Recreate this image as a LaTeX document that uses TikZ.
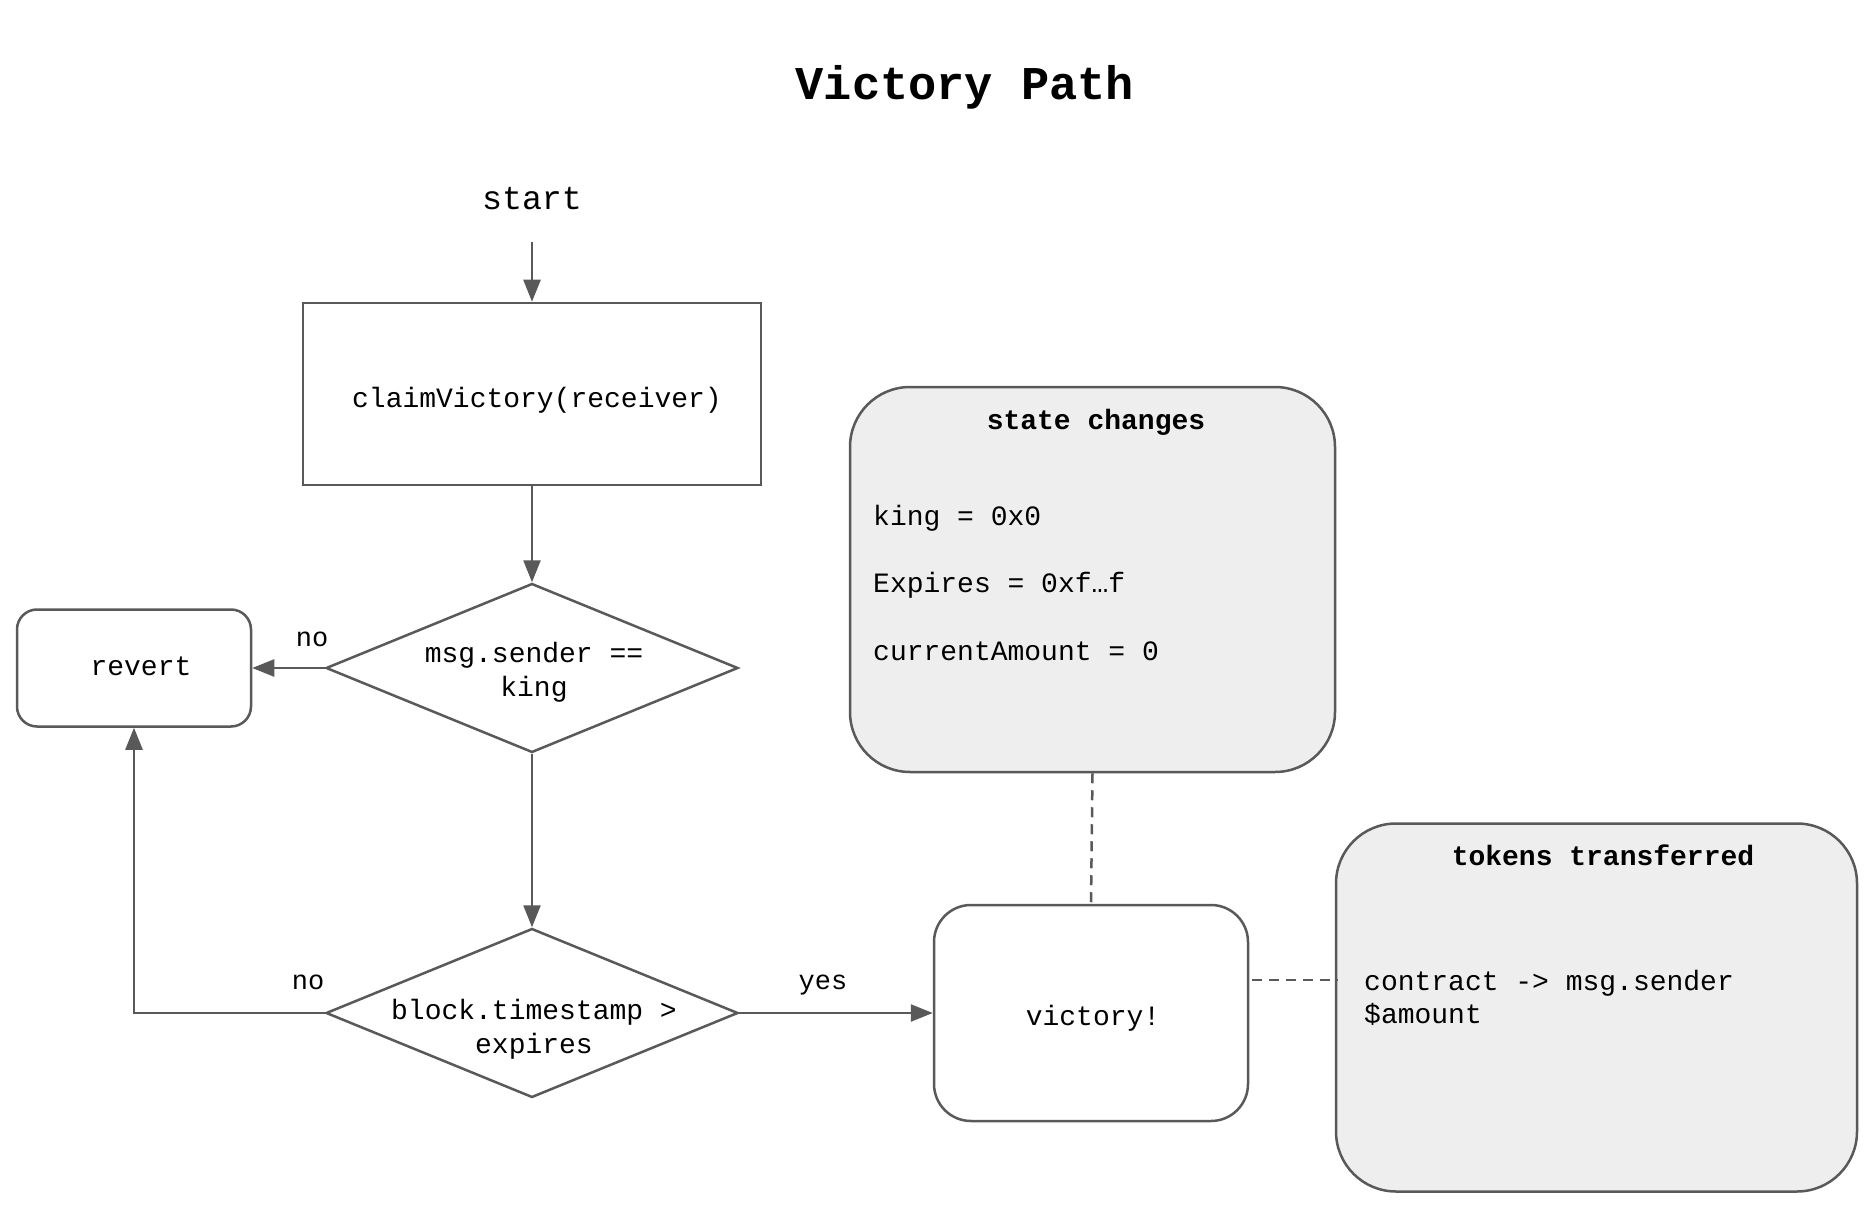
\documentclass[tikz,border=0pt]{standalone}
\usepackage{fontspec}
\setmonofont{Liberation Mono}
\usetikzlibrary{shapes.geometric,arrows.meta}
\definecolor{ln}{RGB}{89,89,89}
\definecolor{boxfill}{RGB}{238,238,238}
\tikzset{
  txt/.style={font=\fontsize{28}{34}\selectfont\ttfamily, inner sep=0pt},
  lbl/.style={font=\fontsize{27}{32}\selectfont\ttfamily, inner sep=0pt, anchor=base},
  btxt/.style={font=\fontsize{28}{33.6}\selectfont\ttfamily\bfseries, inner sep=0pt, anchor=base},
  line/.style={draw=ln, line width=2.5pt},
  arr/.style={line, -{Triangle[length=22pt,width=17pt]}},
  dsh/.style={draw=ln, line width=2.5pt, dash pattern=on 10pt off 7pt},
  procbox/.style={line, rectangle, minimum width=458pt, minimum height=182pt},
  roundbox/.style={line, rectangle, rounded corners=#1},
  decision/.style={line, diamond, inner sep=0pt, aspect=2.44,
     minimum width=412pt, minimum height=169pt},
  note/.style={line, rectangle, fill=boxfill, rounded corners=60pt},
}
\begin{document}
\begin{tikzpicture}[x=1pt,y=-1pt]
\useasboundingbox (0,0) rectangle (1872,1206);
\fill[white] (0,0) rectangle (1872,1206);

% title
\node[anchor=base, inner sep=0pt, font=\fontsize{47}{56}\selectfont\ttfamily\bfseries] (title) at (965,100) {Victory Path};

% start
\node[anchor=base, inner sep=0pt, font=\fontsize{33.3}{40}\selectfont\ttfamily] (start) at (532,210) {start};
\coordinate (s0) at (532,242);

% process
\node[procbox] (claim) at (532,394) {};
\node[txt, anchor=base] (claimt) at (537,407) {claimVictory(receiver)};

% decisions
\node[decision] (d1) at (532,668) {};
\node[txt, align=center] (d1t) at (534,672) {msg.sender ==\\king};
\node[decision] (d2) at (532,1013) {};
\node[txt, align=center] (d2t) at (534,1029) {block.timestamp >\\expires};

% revert / victory
\node[roundbox=20pt, minimum width=234pt, minimum height=117pt] (revert) at (134,668) {};
\node[txt, anchor=base] (revertt) at (141,675) {revert};
\node[roundbox=37pt, minimum width=314pt, minimum height=216pt] (victory) at (1091,1013) {};
\node[txt, anchor=base] (victoryt) at (1093,1025) {victory!};

% notes
\node[note, minimum width=485pt, minimum height=385pt] (state) at (1092.5,579.5) {};
\node[btxt] (stitle) at (1096,429) {state changes};
\node[txt, anchor=base west] (s1) at (873,525) {king = 0x0};
\node[txt, anchor=base west] (s2) at (873,592) {Expires = 0xf…f};
\node[txt, anchor=base west] (s3) at (873,660) {currentAmount = 0};

\node[note, minimum width=521pt, minimum height=368pt] (tokens) at (1596.5,1007.5) {};
\node[btxt] (ttitle) at (1603,865) {tokens transferred};
\node[txt, anchor=base west] (t1) at (1364,990) {contract -> msg.sender};
\node[txt, anchor=base west] (t2) at (1364,1023) {\$amount};

% connectors
\draw[arr] (s0) -- (claim.north);
\draw[arr] (claim.south) -- (d1.north);
\draw[arr] (d1.west) -- (revert.east |- d1.west);
\draw[arr] (d1.south) -- (d2.north);
\draw[arr] (d2.west) -| (revert.south);
\draw[arr] (d2.east) -- (victory.west |- d2.east);

\draw[dsh] (state.south) -- (victory.north);
\coordinate (h0) at (1252,980);
\draw[dsh] (h0) -- ([xshift=3pt]tokens.west |- h0);

% labels
\node[lbl] (no1) at (312,646) {no};
\node[lbl] (no2) at (308,989) {no};
\node[lbl] (yes) at (823,989) {yes};
\end{tikzpicture}
\end{document}
